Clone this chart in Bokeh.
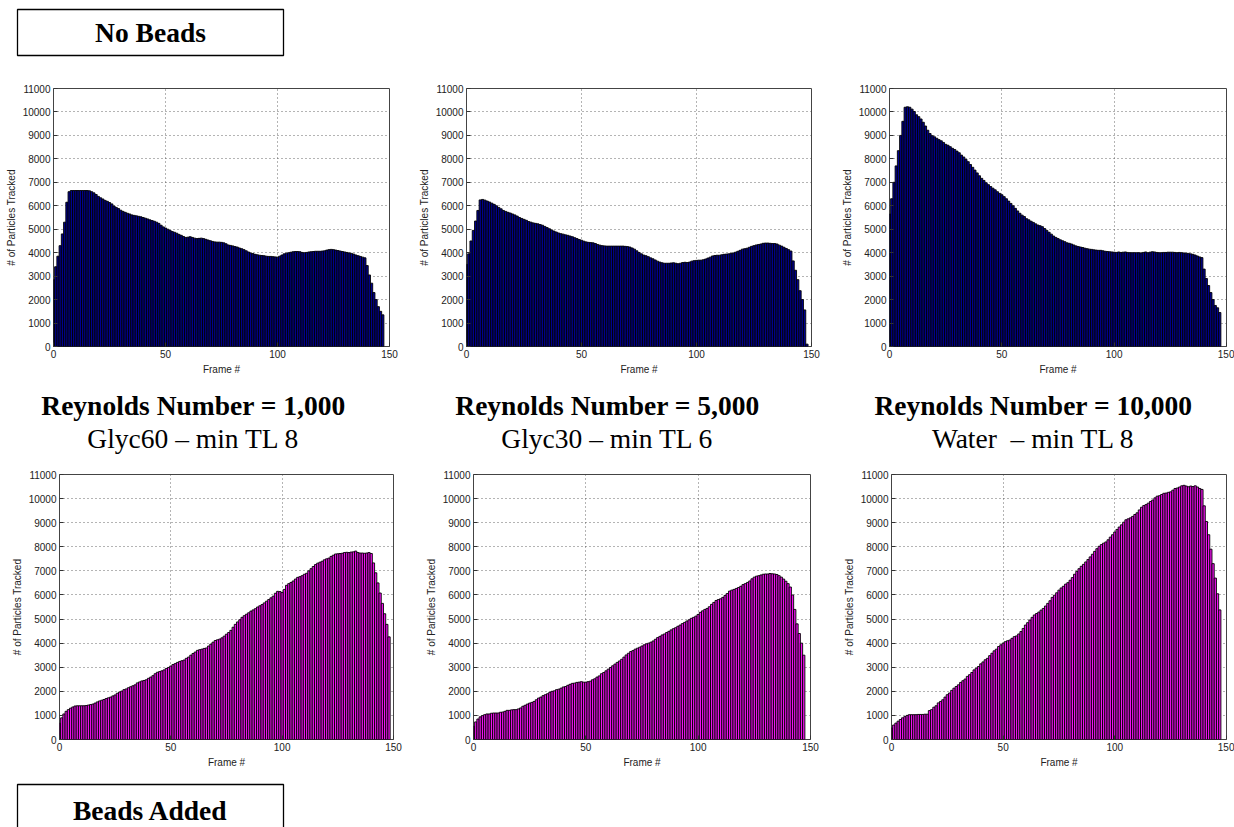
from bokeh.plotting import figure
from bokeh.layouts import column, row
from bokeh.models import Range1d, FixedTicker, Label, BoxAnnotation
from bokeh.embed import file_html
from bokeh.resources import INLINE

# ---------------- data ----------------
frame_ticks = [0, 50, 100, 150]
count_ticks = [0, 1000, 2000, 3000, 4000, 5000, 6000, 7000, 8000, 9000, 10000, 11000]

titles_re = ["Reynolds Number = 1,000", "Reynolds Number = 5,000", "Reynolds Number = 10,000"]
titles_fluid = ["Glyc60 \u2013 min TL 8", "Glyc30 \u2013 min TL 6", "Water\u00a0 \u2013 min TL 8"]
header_top = "No Beads"
header_bottom = "Beads Added"
x_label = "Frame #"
y_label = "# of Particles Tracked"

no_beads_re1000 = [
    2850, 3400, 3850, 4300, 4800, 5300, 6150, 6600, 6650, 6650,
    6650, 6650, 6650, 6650, 6650, 6650, 6640, 6600, 6550, 6480,
    6400, 6340, 6290, 6230, 6190, 6140, 6080, 5990, 5930, 5880,
    5810, 5760, 5720, 5680, 5650, 5610, 5590, 5570, 5550, 5530,
    5500, 5470, 5440, 5400, 5370, 5340, 5300, 5250, 5170, 5100,
    5050, 5000, 4950, 4900, 4870, 4830, 4780, 4740, 4690, 4650,
    4660, 4680, 4650, 4620, 4600, 4610, 4620, 4600, 4570, 4540,
    4510, 4480, 4460, 4450, 4450, 4440, 4420, 4380, 4330, 4310,
    4290, 4260, 4240, 4200, 4170, 4130, 4080, 4030, 3990, 3960,
    3930, 3910, 3890, 3880, 3870, 3850, 3840, 3840, 3830, 3820,
    3810, 3850, 3900, 3950, 3980, 4000, 4020, 4040, 4050, 4050,
    4040, 4010, 4000, 4010, 4030, 4040, 4050, 4060, 4060, 4060,
    4070, 4080, 4110, 4130, 4140, 4130, 4110, 4090, 4070, 4050,
    4030, 4010, 3990, 3970, 3940, 3900, 3870, 3840, 3810, 3780,
    3450, 3050, 2700, 2300, 2000, 1700, 1500, 1350,
]

no_beads_re5000 = [
    3500, 3950, 4500, 4950, 5350, 5800, 6250, 6270, 6240, 6200,
    6160, 6110, 6060, 6000, 5930, 5870, 5800, 5760, 5720, 5690,
    5650, 5610, 5560, 5500, 5460, 5420, 5380, 5330, 5300, 5270,
    5250, 5230, 5200, 5170, 5120, 5070, 5020, 4970, 4920, 4880,
    4840, 4810, 4790, 4760, 4740, 4710, 4680, 4640, 4600, 4560,
    4530, 4490, 4460, 4440, 4430, 4420, 4390, 4350, 4320, 4300,
    4290, 4280, 4280, 4280, 4280, 4280, 4280, 4280, 4280, 4270,
    4260, 4240, 4200, 4150, 4080, 4010, 3950, 3900, 3870, 3830,
    3780, 3740, 3690, 3640, 3600, 3570, 3550, 3550, 3550, 3560,
    3570, 3550, 3530, 3550, 3580, 3590, 3580, 3600, 3640, 3660,
    3670, 3680, 3680, 3700, 3730, 3770, 3810, 3860, 3880, 3890,
    3890, 3910, 3930, 3940, 3950, 3970, 3990, 4020, 4060, 4100,
    4150, 4170, 4190, 4230, 4270, 4300, 4330, 4350, 4370, 4400,
    4410, 4410, 4400, 4390, 4390, 4370, 4320, 4280, 4230, 4180,
    4130, 4070, 3650, 3250, 2850, 2380, 2000, 1560, 100,
]

no_beads_re10000 = [
    5650, 6300, 7000, 7700, 8350, 9000, 9600, 10200, 10220, 10200,
    10120, 10020, 9880, 9800, 9700, 9560, 9400, 9220, 9080, 8990,
    8940, 8880, 8820, 8770, 8700, 8620, 8580, 8520, 8450, 8400,
    8330, 8260, 8160, 8080, 7980, 7880, 7760, 7640, 7520, 7400,
    7280, 7170, 7080, 6980, 6900, 6820, 6750, 6680, 6600, 6530,
    6470, 6390, 6300, 6200, 6100, 6000, 5890, 5780, 5680, 5600,
    5540, 5450, 5400, 5340, 5290, 5230, 5180, 5150, 5110, 5030,
    4950, 4870, 4790, 4710, 4650, 4600, 4550, 4510, 4470, 4420,
    4400, 4370, 4330, 4290, 4260, 4240, 4220, 4190, 4170, 4150,
    4140, 4120, 4110, 4100, 4100, 4080, 4060, 4050, 4040, 4030,
    4020, 4010, 4030, 4010, 4020, 4030, 4010, 4000, 4000, 4000,
    4000, 4000, 3990, 4010, 4030, 4000, 4020, 4040, 4030, 4010,
    4000, 4000, 4010, 4010, 4020, 4020, 4020, 4010, 4000, 4010,
    4000, 3990, 3980, 3970, 3950, 3930, 3900, 3860, 3820, 3790,
    3300, 2900, 2600, 2300, 2000, 1750, 1650, 1450,
]

beads_re1000 = [
    675, 900, 1060, 1170, 1240, 1300, 1350, 1390, 1400, 1400,
    1400, 1400, 1410, 1430, 1450, 1470, 1510, 1560, 1600, 1630,
    1660, 1700, 1730, 1760, 1810, 1850, 1920, 1970, 2010, 2070,
    2100, 2150, 2190, 2230, 2270, 2350, 2390, 2430, 2450, 2480,
    2540, 2590, 2650, 2730, 2790, 2820, 2850, 2890, 2950, 2990,
    3050, 3110, 3150, 3200, 3240, 3270, 3300, 3370, 3420, 3500,
    3570, 3630, 3700, 3730, 3750, 3780, 3800, 3880, 3960, 4040,
    4110, 4140, 4170, 4220, 4290, 4370, 4440, 4530, 4660, 4780,
    4880, 4970, 5070, 5140, 5200, 5260, 5330, 5380, 5430, 5500,
    5550, 5600, 5670, 5740, 5810, 5880, 5950, 6070, 6150, 6140,
    6100, 6230, 6400, 6470, 6520, 6580, 6660, 6730, 6760, 6800,
    6860, 6900, 7000, 7090, 7180, 7260, 7320, 7360, 7400, 7460,
    7500, 7530, 7600, 7650, 7700, 7710, 7720, 7730, 7760, 7770,
    7760, 7780, 7790, 7820, 7760, 7740, 7740, 7730, 7740, 7760,
    7720, 7330, 6920, 6500, 6080, 5650, 5220, 4780, 4260,
]

beads_re5000 = [
    550, 730, 850, 940, 990, 1030, 1060, 1060, 1090, 1100,
    1100, 1100, 1130, 1140, 1170, 1210, 1210, 1230, 1240, 1240,
    1270, 1310, 1380, 1420, 1470, 1510, 1540, 1580, 1650, 1720,
    1760, 1820, 1860, 1900, 1960, 2000, 2020, 2070, 2090, 2130,
    2180, 2200, 2250, 2290, 2330, 2340, 2370, 2380, 2400, 2380,
    2380, 2400, 2420, 2480, 2520, 2590, 2640, 2730, 2780, 2850,
    2920, 2990, 3060, 3130, 3200, 3260, 3330, 3420, 3510, 3580,
    3650, 3690, 3750, 3790, 3830, 3880, 3930, 3970, 4000, 4040,
    4090, 4160, 4230, 4280, 4340, 4380, 4440, 4490, 4550, 4600,
    4640, 4700, 4750, 4810, 4860, 4920, 4970, 5030, 5070, 5120,
    5190, 5280, 5340, 5400, 5440, 5510, 5610, 5690, 5770, 5810,
    5840, 5900, 5980, 6060, 6160, 6200, 6230, 6270, 6310, 6360,
    6430, 6470, 6520, 6580, 6670, 6740, 6780, 6800, 6830, 6860,
    6870, 6870, 6890, 6880, 6870, 6850, 6800, 6740, 6660, 6570,
    6470, 6330, 6000, 5400, 4800, 4400, 4000, 3500,
]

beads_re10000 = [
    480, 600, 680, 760, 830, 900, 950, 1000, 1030, 1030,
    1030, 1030, 1040, 1040, 1040, 1050, 1050, 1200, 1240, 1340,
    1400, 1520, 1580, 1650, 1760, 1860, 1930, 2040, 2130, 2200,
    2270, 2370, 2440, 2510, 2620, 2690, 2780, 2890, 2960, 3030,
    3140, 3220, 3310, 3370, 3480, 3580, 3680, 3750, 3860, 3930,
    4000, 4060, 4100, 4130, 4200, 4270, 4300, 4380, 4480, 4610,
    4750, 4850, 4960, 5070, 5170, 5230, 5290, 5370, 5440, 5540,
    5650, 5760, 5900, 5990, 6090, 6200, 6290, 6360, 6450, 6510,
    6610, 6720, 6860, 6980, 7090, 7190, 7270, 7370, 7470, 7580,
    7690, 7810, 7920, 8020, 8090, 8150, 8200, 8290, 8400, 8500,
    8610, 8720, 8820, 8910, 9020, 9120, 9160, 9200, 9260, 9340,
    9410, 9530, 9640, 9710, 9750, 9810, 9880, 9940, 10030, 10100,
    10120, 10170, 10220, 10230, 10260, 10280, 10350, 10420, 10440, 10480,
    10530, 10550, 10520, 10490, 10520, 10500, 10530, 10480, 10420, 10380,
    9700, 9050, 8500, 7900, 7300, 6700, 6050, 5380,
]

# ---------------- styling ----------------
NO_BEADS_FILL = "#00008f"
BEADS_FILL = "#f010f0"
SANS = "Liberation Sans"
SERIF = "Liberation Serif"
TITLE_SIZE = "27.5px"
W = 1234


def panel(values, fill, w, h, bl, br, bt, bb):
    p = figure(width=w, height=h, x_range=Range1d(0, 150), y_range=Range1d(0, 11000),
               output_backend="svg", toolbar_location=None,
               min_border_left=bl, min_border_right=br, min_border_top=bt, min_border_bottom=bb)
    frames = list(range(len(values)))
    p.vbar(x=frames, top=values, width=1.0, bottom=0,
           fill_color=fill, line_color="black", line_width=0.9)
    p.xaxis.ticker = FixedTicker(ticks=frame_ticks)
    p.yaxis.ticker = FixedTicker(ticks=count_ticks)
    p.xaxis.axis_label = x_label
    p.yaxis.axis_label = y_label
    for ax in (p.xaxis[0], p.yaxis[0]):
        ax.major_tick_in = 4
        ax.major_tick_out = 0
        ax.minor_tick_line_color = None
        ax.axis_line_color = None
        ax.major_tick_line_color = "#333333"
        ax.major_label_text_font = SANS
        ax.major_label_text_font_size = "10px"
        ax.major_label_text_color = "#222222"
        ax.major_label_standoff = 3
        ax.axis_label_text_font = SANS
        ax.axis_label_text_font_size = "10px"
        ax.axis_label_text_font_style = "normal"
        ax.axis_label_text_color = "#222222"
        ax.axis_label_standoff = 3
    p.grid.grid_line_color = "#444444"
    p.grid.grid_line_dash = "1 3"
    p.grid.grid_line_alpha = 0.8
    p.xgrid.ticker = FixedTicker(ticks=frame_ticks)
    p.ygrid.ticker = FixedTicker(ticks=count_ticks)
    p.outline_line_color = "#444444"
    p.outline_line_width = 1
    return p


def strip(w, h):
    s = figure(width=w, height=h, x_range=Range1d(0, w), y_range=Range1d(h, 0),
               output_backend="svg", toolbar_location=None,
               x_axis_location=None, y_axis_location=None, min_border=0)
    s.grid.visible = False
    s.outline_line_color = None
    return s


def boxed_label(s, text, top, bottom):
    s.add_layout(BoxAnnotation(left=17, right=283, top=top, bottom=bottom, fill_alpha=0,
                               line_color="black", line_alpha=1.0, line_width=1.3))
    s.add_layout(Label(x=150, y=(top + bottom) / 2 if bottom < 60 else 33, text=text,
                       text_align="center", text_baseline="middle",
                       text_font=SERIF, text_font_size=TITLE_SIZE, text_font_style="bold",
                       text_color="black"))


head = strip(W, 62)
boxed_label(head, header_top, 9, 55)

p1 = panel(no_beads_re1000, NO_BEADS_FILL, 412, 318, 53, 23, 19, 34)
p2 = panel(no_beads_re5000, NO_BEADS_FILL, 426, 318, 54, 27, 18, 28)
p3 = panel(no_beads_re10000, NO_BEADS_FILL, 396, 318, 51, 8, 26, 27)

mid = strip(W, 75)
for cx, t1, t2 in zip([193, 607, 1033], titles_re, titles_fluid):
    mid.add_layout(Label(x=cx, y=25, text=t1, text_align="center", text_baseline="middle",
                         text_font=SERIF, text_font_size=TITLE_SIZE, text_font_style="bold",
                         text_color="black"))
    mid.add_layout(Label(x=cx, y=58, text=t2, text_align="center", text_baseline="middle",
                         text_font=SERIF, text_font_size=TITLE_SIZE, text_color="black"))

p4 = panel(beads_re1000, BEADS_FILL, 420, 322, 59, 27, 18, 38)
p5 = panel(beads_re5000, BEADS_FILL, 420, 322, 53, 30, 19, 37)
p6 = panel(beads_re10000, BEADS_FILL, 394, 322, 49, 8, 19, 37)

foot = strip(W, 50)
boxed_label(foot, header_bottom, 7, 62)

layout = column(head, row(p1, p2, p3), mid, row(p4, p5, p6), foot)

open("out.html", "w").write(file_html(layout, INLINE))
